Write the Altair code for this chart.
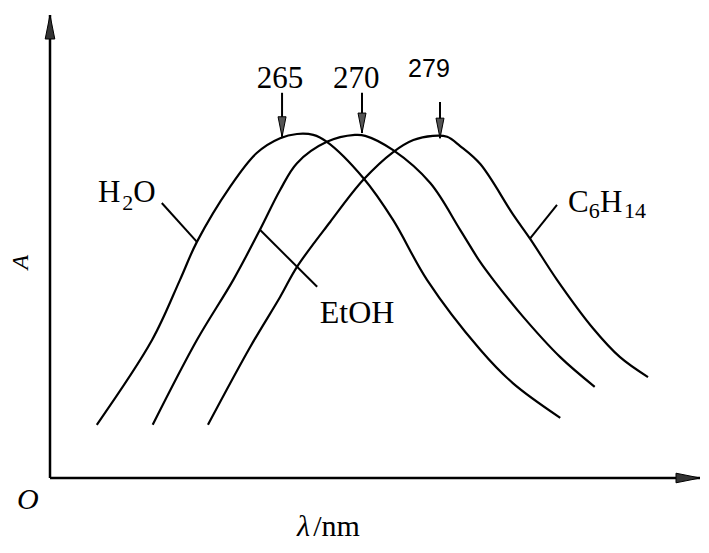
import altair as alt
import pandas as pd

# ---- curve data (relative wavelength units 0-100, absorbance units 0-100) ----
h2o_x = [7.2, 15.7, 20.0, 22.6, 27.7, 31.8, 35.4, 38.0, 40.5, 42.6, 48.2, 52.8, 58.0, 66.2, 71.2, 78.5]
h2o_y = [11.5, 29.8, 42.8, 51.0, 62.9, 70.2, 73.4, 74.3, 74.1, 72.6, 64.8, 55.7, 42.8, 27.7, 20.5, 13.0]

etoh_x = [15.8, 22.6, 28.2, 32.3, 35.4, 38.0, 42.6, 46.9, 48.5, 52.8, 58.5, 63.1, 66.2, 68.2, 72.8, 78.5, 83.8]
etoh_y = [11.5, 29.8, 42.8, 53.6, 62.2, 68.0, 72.6, 74.1, 73.9, 70.8, 63.7, 53.6, 46.6, 42.8, 34.8, 26.1, 19.7]

hex_x = [24.3, 30.8, 35.4, 38.0, 43.1, 48.2, 52.8, 55.9, 58.9, 61.1, 63.1, 66.2, 71.2, 73.9, 78.0, 83.5, 87.7, 92.0]
hex_y = [11.5, 28.3, 39.1, 45.6, 55.3, 64.4, 70.4, 73.0, 73.9, 73.7, 71.7, 67.8, 57.0, 51.6, 42.8, 32.4, 26.1, 21.8]

# peak markers
peak_labels = ["265", "270", "279"]
peak_x = [35.7, 48.0, 60.0]
peak_top = [83.2, 83.2, 81.2]
peak_tip = [73.7, 74.5, 73.4]

curves = pd.concat([
    pd.DataFrame({"x": h2o_x, "y": h2o_y, "series": "H2O"}),
    pd.DataFrame({"x": etoh_x, "y": etoh_y, "series": "EtOH"}),
    pd.DataFrame({"x": hex_x, "y": hex_y, "series": "C6H14"}),
])

SX = alt.Scale(domain=[0, 100], nice=False, zero=False)
SY = alt.Scale(domain=[0, 100], nice=False, zero=False)
X = alt.X("x:Q", scale=SX, axis=None)
Y = alt.Y("y:Q", scale=SY, axis=None)

lines = alt.Chart(curves).mark_line(
    color="black", strokeWidth=2.2, interpolate="catmull-rom"
).encode(X, Y, detail="series:N")

# axes
axes_df = pd.DataFrame({"x": [0, 0], "y": [0, 0], "x2": [0, 100], "y2": [100, 0]})
axes = alt.Chart(axes_df).mark_rule(color="black", strokeWidth=2.5).encode(
    X, Y, x2="x2:Q", y2="y2:Q"
)
up_head = alt.Chart(pd.DataFrame({"x": [0], "y": [100]})).mark_point(
    shape="M0,-1L0.4,1L-0.4,1Z", size=576, filled=True, fill="#333",
    stroke="black", strokeWidth=1, opacity=1, yOffset=12
).encode(X, Y)
right_head = alt.Chart(pd.DataFrame({"x": [100], "y": [0]})).mark_point(
    shape="M1,0L-1,-0.4L-1,0.4Z", size=576, filled=True, fill="#333",
    stroke="black", strokeWidth=1, opacity=1, xOffset=-12
).encode(X, Y)

# peak arrows
peaks = pd.DataFrame({"x": peak_x, "y": peak_top, "y2": peak_tip, "label": peak_labels})
peak_rules = alt.Chart(peaks).mark_rule(color="black", strokeWidth=2).encode(X, Y, y2="y2:Q")
peak_heads = alt.Chart(peaks).mark_point(
    shape="M-0.4,-1L0.4,-1L0,1Z", size=400, filled=True, fill="#555",
    stroke="black", strokeWidth=1, opacity=1, yOffset=-10
).encode(X, alt.Y("y2:Q", scale=SY, axis=None))

# leader lines
leaders = pd.DataFrame({
    "x": [17.2, 32.3, 78.0], "y": [59.4, 53.6, 59.0],
    "x2": [22.6, 41.1, 73.9], "y2": [51.0, 41.3, 51.8],
})
leader_rules = alt.Chart(leaders).mark_rule(color="black", strokeWidth=2).encode(
    X, Y, x2="x2:Q", y2="y2:Q"
)

SERIF = "Liberation Serif"

def text_layer(df, **kw):
    return alt.Chart(pd.DataFrame(df)).mark_text(color="black", **kw).encode(
        X, Y, text="t:N"
    )

t_serif_center = text_layer({"t": ["265", "270"], "x": [35.4, 47.1], "y": [84.2, 84.2]},
                            font=SERIF, fontSize=31, align="center", baseline="alphabetic")
t_serif_left = text_layer({"t": ["H", "O", "C", "H"], "x": [7.4, 12.8, 79.7, 84.6],
                           "y": [59.6, 59.6, 57.45, 57.45]},
                          font=SERIF, fontSize=31, align="left", baseline="alphabetic")
t_subs = text_layer({"t": ["2", "6", "14"], "x": [11.1, 82.9, 88.3], "y": [57.9, 56.2, 56.2]},
                    font=SERIF, fontSize=22, align="left", baseline="alphabetic")
t_etoh = text_layer({"t": ["EtOH"], "x": [41.5], "y": [33.5]},
                    font=SERIF, fontSize=32, align="left", baseline="alphabetic")
t_nm = text_layer({"t": ["/nm"], "x": [40.5], "y": [-12.6]},
                  font=SERIF, fontSize=30, align="left", baseline="alphabetic")
t_279 = text_layer({"t": ["279"], "x": [58.3], "y": [86.6]},
                   font="Liberation Sans", fontSize=25, align="center", baseline="alphabetic")
t_origin = text_layer({"t": ["O"], "x": [-3.4], "y": [-4.75]},
                      font=SERIF, fontSize=30, fontStyle="italic", align="center", baseline="middle")
t_lambda = text_layer({"t": ["λ"], "x": [38.0], "y": [-12.6]},
                      font=SERIF, fontSize=30, fontStyle="italic", align="left", baseline="alphabetic")
t_A = text_layer({"t": ["A"], "x": [-4.5], "y": [46.6]},
                 font=SERIF, fontSize=24, fontStyle="italic", align="center", baseline="middle", angle=270)

chart = alt.layer(
    axes, up_head, right_head, lines, peak_rules, peak_heads, leader_rules,
    t_serif_center, t_serif_left, t_subs, t_etoh, t_nm, t_279, t_origin, t_lambda, t_A
).properties(
    width=650, height=463,
    padding={"left": 42, "top": 7, "right": 1, "bottom": 67},
    autosize="none", background="white"
).configure_view(stroke=None)

chart.save("out.html", embed_options={"renderer": "svg", "actions": False})
